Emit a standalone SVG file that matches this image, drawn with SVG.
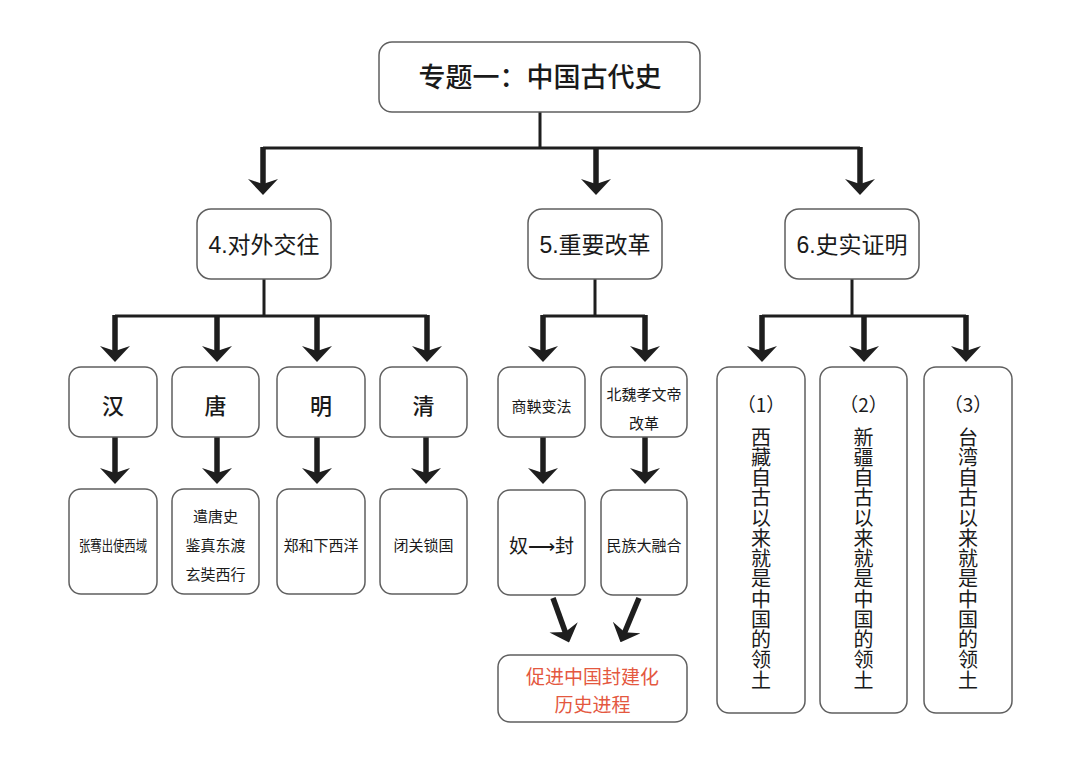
<svg xmlns="http://www.w3.org/2000/svg" width="1080" height="762" viewBox="0 0 1080 762">
<defs>
<style>
.box{fill:#fff;stroke:#5f5f5f;stroke-width:1.5}
.t{font-family:"Liberation Sans","Noto Sans CJK SC",sans-serif;fill:#1a1a1a;text-anchor:middle;dominant-baseline:central}
.c{font-family:"Noto Sans CJK SC",sans-serif;fill:#1a1a1a;text-anchor:middle;dominant-baseline:central}
.v{font-family:"Noto Sans CJK SC",sans-serif;fill:#1a1a1a;writing-mode:vertical-rl;font-size:20px;letter-spacing:0.25px}
.red{fill:#e4583f}
.ln{stroke:#1e1e1e;stroke-width:3;fill:none}
.ar{stroke:#1e1e1e;stroke-width:5.5;fill:none;marker-end:url(#ah)}
</style>
<marker id="ah" markerUnits="userSpaceOnUse" viewBox="-16 -15 16 30" refX="-9" refY="0" markerWidth="16" markerHeight="30" orient="auto">
<path d="M0,0 L-16,-15 L-11,0 L-16,15 Z" fill="#1e1e1e"/>
</marker>
</defs>
<rect width="1080" height="762" fill="#fff"/>

<g id="connectors">
<path class="ln" d="M540,112 V148 M263,148 H860"/>
<line class="ar" x1="263" y1="147" x2="263" y2="186"/>
<line class="ar" x1="596" y1="147" x2="596" y2="186"/>
<line class="ar" x1="860" y1="147" x2="860" y2="186"/>

<path class="ln" d="M264,279 V316 M115,316 H427"/>
<line class="ar" x1="115" y1="315" x2="115" y2="353"/>
<line class="ar" x1="217" y1="315" x2="217" y2="353"/>
<line class="ar" x1="317" y1="315" x2="317" y2="353"/>
<line class="ar" x1="427" y1="315" x2="427" y2="353"/>

<path class="ln" d="M595,279 V316 M543,316 H645"/>
<line class="ar" x1="543" y1="315" x2="543" y2="353"/>
<line class="ar" x1="645" y1="315" x2="645" y2="353"/>

<path class="ln" d="M852,279 V316 M762,316 H966"/>
<line class="ar" x1="762" y1="315" x2="762" y2="353"/>
<line class="ar" x1="864" y1="315" x2="864" y2="353"/>
<line class="ar" x1="966" y1="315" x2="966" y2="353"/>

<line class="ar" x1="115" y1="437" x2="115" y2="475"/>
<line class="ar" x1="217" y1="437" x2="217" y2="475"/>
<line class="ar" x1="317" y1="437" x2="317" y2="475"/>
<line class="ar" x1="426" y1="437" x2="426" y2="475"/>
<line class="ar" x1="543" y1="437" x2="543" y2="475"/>
<line class="ar" x1="645" y1="437" x2="645" y2="475"/>

<line class="ar" x1="553" y1="598" x2="566" y2="634"/>
<line class="ar" x1="639" y1="598" x2="624" y2="634"/>
</g>

<g id="n-title"><rect class="box" x="379" y="42" width="321" height="70" rx="13"/><text class="t" x="540" y="78" font-size="27" font-weight="500">专题一：中国古代史</text></g>

<g id="n-4"><rect class="box" x="197" y="209" width="134" height="70" rx="14"/><text class="t" x="264" y="245" font-size="23">4.对外交往</text></g>
<g id="n-5"><rect class="box" x="528" y="209" width="134" height="70" rx="14"/><text class="t" x="595" y="245" font-size="23">5.重要改革</text></g>
<g id="n-6"><rect class="box" x="785" y="209" width="134" height="70" rx="14"/><text class="t" x="852" y="245" font-size="23">6.史实证明</text></g>

<g id="n-han"><rect class="box" x="69" y="367" width="88" height="70" rx="12"/><text class="c" x="113" y="404" font-size="22" font-weight="500">汉</text></g>
<g id="n-tang"><rect class="box" x="172" y="367" width="87" height="70" rx="12"/><text class="c" x="215.5" y="404" font-size="22" font-weight="500">唐</text></g>
<g id="n-ming"><rect class="box" x="277" y="367" width="88" height="70" rx="12"/><text class="c" x="321" y="404" font-size="22" font-weight="500">明</text></g>
<g id="n-qing"><rect class="box" x="380" y="367" width="87" height="70" rx="12"/><text class="c" x="423.5" y="404" font-size="22" font-weight="500">清</text></g>

<g id="n-zhangqian"><rect class="box" x="69" y="489" width="88" height="105" rx="12"/><text class="c" x="113" y="544" font-size="15" textLength="68" lengthAdjust="spacingAndGlyphs">张骞出使西域</text></g>
<g id="n-tang2"><rect class="box" x="172" y="489" width="87" height="105" rx="12"/><text class="c" font-size="15"><tspan x="215.5" y="515">遣唐史</tspan><tspan x="215.5" y="544">鉴真东渡</tspan><tspan x="215.5" y="573">玄奘西行</tspan></text></g>
<g id="n-zhenghe"><rect class="box" x="277" y="489" width="88" height="105" rx="12"/><text class="c" x="321" y="544" font-size="15">郑和下西洋</text></g>
<g id="n-biguan"><rect class="box" x="380" y="489" width="87" height="105" rx="12"/><text class="c" x="423.5" y="544" font-size="15">闭关锁国</text></g>

<g id="n-shangyang"><rect class="box" x="498" y="367" width="87" height="70" rx="12"/><text class="c" x="541.5" y="405" font-size="15">商鞅变法</text></g>
<g id="n-xiaowen"><rect class="box" x="601" y="367" width="86" height="70" rx="12"/><text class="c" font-size="15"><tspan x="644" y="393">北魏孝文帝</tspan><tspan x="644" y="422">改革</tspan></text></g>
<g id="n-nufeng"><rect class="box" x="498" y="490" width="87" height="105" rx="12"/><text class="c" x="541.5" y="544" font-size="19">奴⟶封</text></g>
<g id="n-minzu"><rect class="box" x="601" y="490" width="86" height="105" rx="12"/><text class="c" x="644" y="544" font-size="15">民族大融合</text></g>
<g id="n-result"><rect class="box" x="498" y="655" width="189" height="67" rx="12"/><text class="c red" font-size="19"><tspan x="592.5" y="675">促进中国封建化</tspan><tspan x="592.5" y="703">历史进程</tspan></text></g>

<g id="n-xizang"><rect class="box" x="717" y="367" width="88" height="346" rx="12"/>
<text class="c" x="761" y="403" font-size="19">（1）</text>
<text class="v" x="761" y="427">西藏自古以来就是中国的领土</text></g>
<g id="n-xinjiang"><rect class="box" x="820" y="367" width="87" height="346" rx="12"/>
<text class="c" x="863.5" y="403" font-size="19">（2）</text>
<text class="v" x="863.5" y="427">新疆自古以来就是中国的领土</text></g>
<g id="n-taiwan"><rect class="box" x="924" y="367" width="88" height="346" rx="12"/>
<text class="c" x="968" y="403" font-size="19">（3）</text>
<text class="v" x="968" y="427">台湾自古以来就是中国的领土</text></g>
</svg>
